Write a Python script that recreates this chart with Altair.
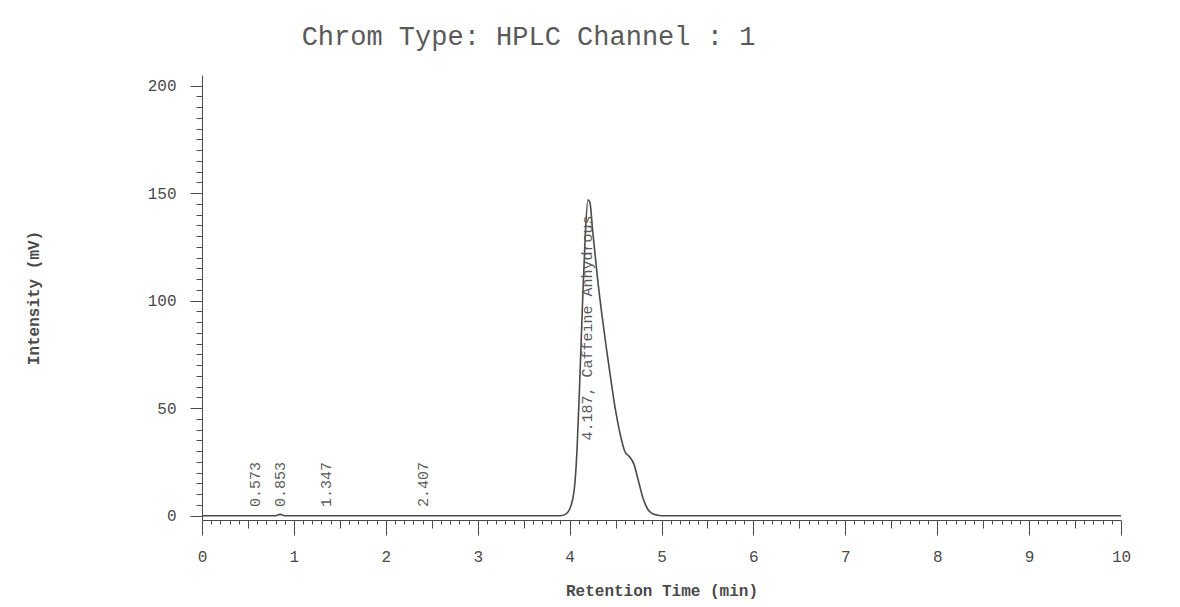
import altair as alt
import pandas as pd

# Chromatogram trace (retention time in min, intensity in mV)
TIME = [0.0, 0.80, 0.85, 0.90, 3.90, 3.95, 4.00, 4.05, 4.08, 4.11, 4.14, 4.17, 4.20,
        4.22, 4.25, 4.30, 4.35, 4.40, 4.45, 4.50, 4.55, 4.60, 4.65, 4.70, 4.75,
        4.80, 4.85, 4.90, 4.95, 5.00, 10.0]
INTENSITY = [0.0, 0.0, 0.6, 0.0, 0.0, 0.5, 3.0, 12.0, 30.0, 62.0, 98.0, 130.0, 147.0,
             146.0, 133.0, 112.0, 94.0, 78.0, 63.0, 49.0, 38.0, 30.0, 27.5, 24.0, 16.0,
             8.0, 3.0, 1.0, 0.3, 0.0, 0.0]

# Peak annotations
PEAK_TIME = [0.573, 0.853, 1.347, 2.407, 4.187]
PEAK_TEXT = ["0.573", "0.853", "1.347", "2.407", "4.187, Caffeine Anhydrous"]
PEAK_LABEL_AT = [4, 4, 4, 4, 35]

# Axis ticks
X_TICKS = [round(i * 0.1, 1) for i in range(101)]
Y_TICKS = [i * 5 for i in range(41)]

FONT = "Liberation Mono"
INK = "#4a4a4a"
TXT = "#5a5a5a"

trace = pd.DataFrame({"t": TIME, "mv": INTENSITY})
peaks = pd.DataFrame({"t": PEAK_TIME, "label": PEAK_TEXT, "y": PEAK_LABEL_AT})

x_axis = alt.Axis(
    values=X_TICKS,
    title="Retention Time (min)",
    titleFont=FONT, titleFontSize=16, titleFontWeight="bold", titleColor=INK,
    titlePadding=18,
    labelFont=FONT, labelFontSize=16, labelColor=INK, labelPadding=13,
    labelOverlap=False, labelFlush=False,
    labelExpr="abs(datum.value - round(datum.value)) < 0.01 ? format(datum.value, 'd') : ''",
    tickColor=INK, domainColor=INK, grid=False,
    tickSize={"condition": [
        {"test": "abs(datum.value - round(datum.value)) < 0.01", "value": 15},
        {"test": "abs(datum.value*2 - round(datum.value*2)) < 0.01", "value": 8},
    ], "value": 4},
)
y_axis = alt.Axis(
    values=Y_TICKS,
    title="Intensity (mV)",
    titleFont=FONT, titleFontSize=16, titleFontWeight="bold", titleColor=INK,
    titlePadding=106,
    labelFont=FONT, labelFontSize=16, labelColor=INK, labelPadding=14,
    labelOverlap=False, labelFlush=False,
    labelExpr="datum.value % 50 === 0 ? format(datum.value, 'd') : ''",
    tickColor=INK, domainColor=INK, grid=False,
    tickSize={"condition": {"test": "datum.value % 50 === 0", "value": 12}, "value": 6},
)

x_scale = alt.Scale(domain=[0, 10], nice=False, zero=False)
y_scale = alt.Scale(domain=[-2, 205], nice=False, zero=False)

line = alt.Chart(trace).mark_line(color=INK, strokeWidth=1.6, interpolate="monotone").encode(
    x=alt.X("t:Q", scale=x_scale, axis=x_axis),
    y=alt.Y("mv:Q", scale=y_scale, axis=y_axis),
)

labels = alt.Chart(peaks).mark_text(
    angle=270, align="left", baseline="middle", font=FONT, fontSize=15, color=TXT
).encode(
    x=alt.X("t:Q", scale=x_scale, axis=x_axis),
    y=alt.Y("y:Q", scale=y_scale, axis=y_axis),
    text="label:N",
)

chart = alt.layer(line, labels).properties(
    width=919, height=445,
    autosize=alt.AutoSizeParams(type="none"),
    padding={"left": 194, "top": 67, "right": 51, "bottom": 86},
    title=alt.Title(
        "Chrom Type: HPLC Channel : 1",
        font=FONT, fontSize=27, fontWeight="normal", color=TXT,
        anchor="middle", dx=-133, offset=24,
    ),
).configure(background="white").configure_view(stroke=None)

chart.save("out.html", embed_options={"renderer": "svg", "actions": False})
